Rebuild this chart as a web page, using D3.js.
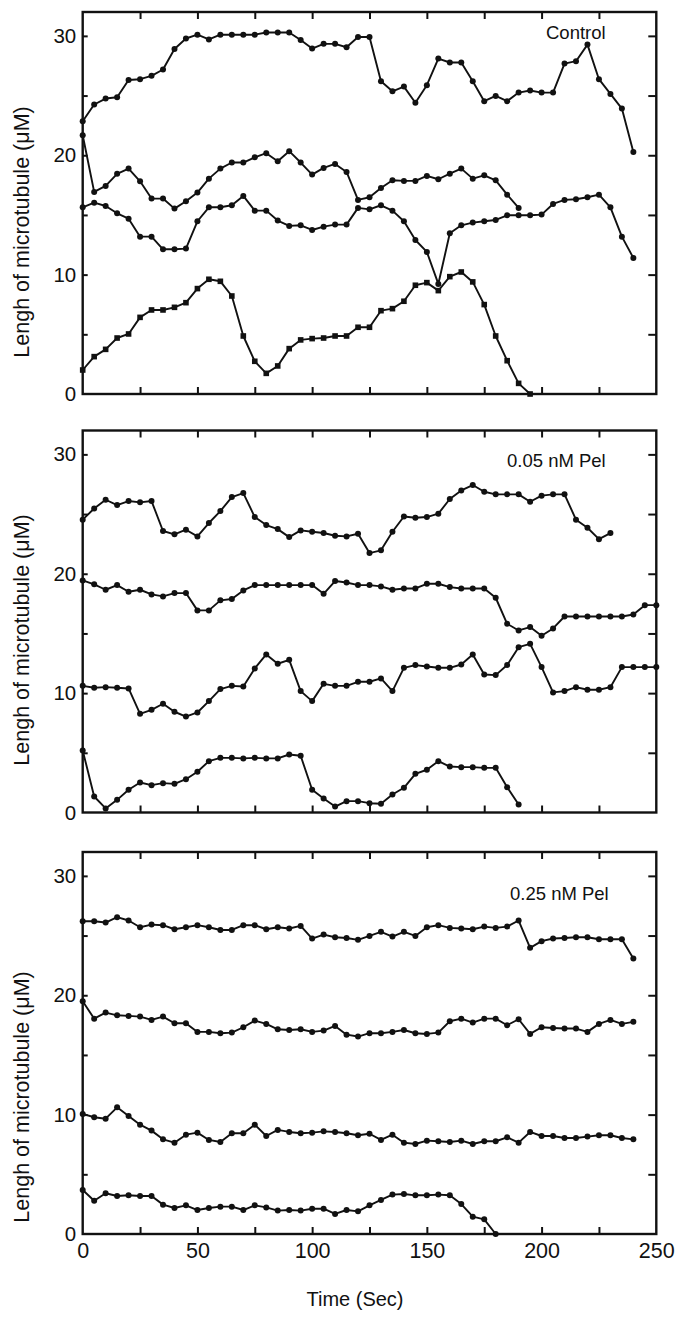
<!DOCTYPE html>
<html><head><meta charset="utf-8">
<script src="https://cdn.jsdelivr.net/npm/d3@7"></script>
<style>body{margin:0;background:#fff}svg{display:block}</style>
</head><body>
<svg id="chart" width="684" height="1322"></svg>
<script>
// ---- data ----
const times = [0,5,10,15,20,25,30,35,40,45,50,55,60,65,70,75,80,85,90,95,100,105,110,115,120,125,130,135,140,145,150,155,160,165,170,175,180,185,190,195,200,205,210,215,220,225,230,235,240,245,250];
const xTicks = [0,50,100,150,200,250];
const xMinorTicks = [25,50,75,100,125,150,175,200,225];
const yTicks = [0,10,20,30];
const yMinorTicks = [5,10,15,20,25,30];
const panelLabels = ["Control","0.05 nM Pel","0.25 nM Pel"];
const yTitle = "Lengh of microtubule (\u03bcM)";
const xTitle = "Time (Sec)";

// Control
const ctrlA = [22.85,24.25,24.75,24.86,26.3,26.37,26.65,27.18,28.9,29.78,30.1,29.7,30.1,30.1,30.1,30.1,30.28,30.28,30.28,29.66,28.94,29.33,29.33,29.05,29.9,29.9,26.2,25.36,25.75,24.4,25.87,28.1,27.77,27.77,26.2,24.53,24.97,24.53,25.25,25.42,25.25,25.25,27.68,27.88,29.27,26.37,25.14,23.91,20.28];
const ctrlB = [21.68,16.93,17.43,18.44,18.88,17.82,16.37,16.37,15.53,16.15,16.87,18.04,18.88,19.39,19.39,19.83,20.17,19.5,20.34,19.39,18.38,18.94,19.27,18.6,16.26,16.48,17.26,17.9,17.85,17.85,18.27,17.99,18.46,18.88,18.04,18.32,17.9,16.7,15.59];
const ctrlC = [15.64,16.03,15.75,15.14,14.69,13.18,13.18,12.12,12.12,12.18,14.47,15.64,15.64,15.81,16.59,15.36,15.36,14.53,14.08,14.13,13.74,14.02,14.19,14.19,15.59,15.47,15.81,15.36,14.47,12.9,11.9,9.22,13.46,14.13,14.36,14.47,14.58,14.97,14.97,14.97,15.03,15.92,16.26,16.31,16.48,16.7,15.64,13.18,11.4];
const ctrlD = [2.01,3.13,3.74,4.69,5.03,6.42,7.04,7.04,7.26,7.65,8.83,9.61,9.44,8.21,4.86,2.74,1.73,2.35,3.8,4.53,4.64,4.69,4.86,4.86,5.59,5.59,6.98,7.15,7.77,9.11,9.33,8.66,9.83,10.22,9.39,7.49,4.86,2.79,0.89,0];
// 0.05 nM Pel
const pel05A = [24.53,25.47,26.2,25.75,26.09,25.98,26.09,23.58,23.3,23.69,23.13,24.25,25.25,26.42,26.76,24.75,24.08,23.74,23.07,23.63,23.52,23.41,23.18,23.13,23.35,21.73,21.96,23.52,24.8,24.69,24.75,25.03,26.26,26.98,27.43,26.87,26.65,26.65,26.65,26.03,26.54,26.65,26.65,24.53,23.85,22.9,23.41];
const pel05B = [19.44,19.11,18.66,19.05,18.49,18.66,18.27,18.1,18.38,18.38,16.93,16.93,17.77,17.88,18.6,19.05,19.05,19.05,19.05,19.05,19.05,18.32,19.39,19.27,19.05,19.05,18.94,18.66,18.77,18.77,19.16,19.16,18.88,18.77,18.77,18.77,17.99,15.81,15.25,15.53,14.8,15.42,16.42,16.42,16.42,16.42,16.42,16.42,16.59,17.37,17.37];
const pel05C = [10.61,10.45,10.5,10.45,10.39,8.27,8.6,9.11,8.44,8.04,8.38,9.33,10.34,10.61,10.56,12.07,13.24,12.46,12.79,10.17,9.33,10.78,10.61,10.61,10.95,10.95,11.23,10.17,12.12,12.35,12.23,12.12,12.12,12.4,13.24,11.56,11.51,12.35,13.85,14.13,12.18,10.06,10.17,10.5,10.28,10.28,10.5,12.18,12.18,12.18,12.18];
const pel05D = [5.2,1.34,0.34,1.06,1.9,2.51,2.29,2.46,2.4,2.79,3.41,4.3,4.58,4.58,4.53,4.58,4.53,4.53,4.86,4.75,1.9,1.17,0.5,0.95,0.95,0.78,0.73,1.51,2.07,3.24,3.58,4.3,3.85,3.8,3.8,3.74,3.74,2.12,0.67];
// 0.25 nM Pel
const pel25A = [26.2,26.2,26.09,26.54,26.26,25.7,25.92,25.87,25.53,25.7,25.87,25.7,25.47,25.47,25.87,25.87,25.53,25.7,25.59,25.81,24.75,25.08,24.86,24.8,24.64,24.97,25.31,24.92,25.31,24.97,25.7,25.87,25.64,25.59,25.53,25.75,25.64,25.75,26.26,23.97,24.53,24.75,24.8,24.86,24.86,24.69,24.69,24.69,23.07];
const pel25B = [19.5,18.04,18.55,18.32,18.27,18.21,17.93,18.21,17.65,17.65,16.93,16.93,16.82,16.87,17.32,17.88,17.6,17.15,17.09,17.15,16.93,17.04,17.43,16.7,16.54,16.82,16.82,16.93,17.09,16.82,16.76,16.87,17.82,18.04,17.71,18.04,18.04,17.49,17.99,16.76,17.32,17.26,17.21,17.21,16.93,17.6,17.93,17.6,17.77];
const pel25C = [10.06,9.78,9.66,10.61,9.89,9.16,8.66,7.93,7.65,8.32,8.49,7.88,7.71,8.44,8.44,9.16,8.21,8.72,8.55,8.44,8.49,8.6,8.55,8.44,8.27,8.4,7.88,8.32,7.65,7.54,7.82,7.77,7.71,7.82,7.54,7.77,7.77,8.1,7.65,8.55,8.21,8.21,8.04,8.04,8.16,8.27,8.27,8.04,7.93];
const pel25D = [3.69,2.79,3.41,3.18,3.24,3.18,3.18,2.46,2.18,2.4,2.01,2.18,2.29,2.29,2.01,2.4,2.23,1.96,2.01,1.96,2.12,2.12,1.68,2.01,1.9,2.4,2.85,3.3,3.35,3.24,3.24,3.3,3.24,2.51,1.45,1.23,0];

const panels = [
  {label: panelLabels[0], series: [{v: ctrlA, m: "circle"}, {v: ctrlB, m: "circle"}, {v: ctrlC, m: "circle"}, {v: ctrlD, m: "square"}]},
  {label: panelLabels[1], series: [{v: pel05A, m: "circle"}, {v: pel05B, m: "circle"}, {v: pel05C, m: "circle"}, {v: pel05D, m: "circle"}]},
  {label: panelLabels[2], series: [{v: pel25A, m: "circle"}, {v: pel25B, m: "circle"}, {v: pel25C, m: "circle"}, {v: pel25D, m: "circle"}]}
];

// ---- layout ----
const svg = d3.select("#chart");
const ink = "#111";
const font = "Liberation Sans, Arial, sans-serif";
const left = 82.7, right = 656.3;
const bottoms = [394, 812.5, 1234];
const panelH = 382;
const titleY = [232, 640, 1097];
const labelPos = [[546, 39], [507, 467], [510, 900]];
const x = d3.scaleLinear().domain([0, 250]).range([left, right]);

panels.forEach((p, pi) => {
  const b = bottoms[pi], t = b - panelH;
  const y = d3.scaleLinear().domain([0, 32]).range([b, t]);
  const g = svg.append("g");

  // ticks (all inward)
  g.append("g").attr("transform", `translate(0,${t})`)
    .call(d3.axisBottom(x).tickValues(xMinorTicks).tickSize(7).tickFormat(""))
    .call(s => s.select(".domain").remove());
  g.append("g").attr("transform", `translate(0,${b})`)
    .call(d3.axisTop(x).tickValues(xMinorTicks).tickSize(7).tickFormat(""))
    .call(s => s.select(".domain").remove());
  g.append("g").attr("transform", `translate(${right},0)`)
    .call(d3.axisLeft(y).tickValues(yMinorTicks).tickSize(8).tickFormat(""))
    .call(s => s.select(".domain").remove());
  g.append("g").attr("transform", `translate(${left},0)`)
    .call(d3.axisRight(y).tickValues(yMinorTicks).tickSize(5).tickFormat(""))
    .call(s => s.select(".domain").remove());
  g.selectAll(".tick line").attr("stroke", ink).attr("stroke-width", 2);

  // y tick labels
  g.append("g").attr("transform", `translate(${left},0)`)
    .call(d3.axisLeft(y).tickValues(yTicks).tickSize(0).tickPadding(6.5))
    .call(s => s.select(".domain").remove())
    .call(s => s.selectAll("text").attr("font-family", font)
      .attr("font-size", 20.5).attr("fill", ink));

  // frame
  g.append("rect").attr("x", left).attr("y", t).attr("width", right - left).attr("height", b - t)
    .attr("fill", "none").attr("stroke", ink).attr("stroke-width", 2.4);

  // series
  const line = d3.line().x((d, i) => x(times[i])).y(d => y(d));
  p.series.forEach(s => {
    g.append("path").datum(s.v).attr("d", line).attr("fill", "none")
      .attr("stroke", ink).attr("stroke-width", 1.9).attr("stroke-linejoin", "round");
    if (s.m === "circle") {
      g.selectAll(null).data(s.v).enter().append("circle")
        .attr("cx", (d, i) => x(times[i])).attr("cy", d => y(d)).attr("r", 3).attr("fill", ink);
    } else {
      g.selectAll(null).data(s.v).enter().append("rect")
        .attr("x", (d, i) => x(times[i]) - 2.8).attr("y", d => y(d) - 2.8)
        .attr("width", 5.6).attr("height", 5.6).attr("fill", ink);
    }
  });

  // panel label
  g.append("text").attr("x", labelPos[pi][0]).attr("y", labelPos[pi][1])
    .attr("font-family", font).attr("font-size", 18.5)
    .attr("fill", ink).text(p.label);

  // y title
  g.append("text").attr("transform", `translate(29,${titleY[pi]}) rotate(-90)`)
    .attr("text-anchor", "middle").attr("font-family", font)
    .attr("font-size", 21.5).attr("fill", ink).text(yTitle);

  if (pi === 2) {
    g.append("g").attr("transform", `translate(0,${b})`)
      .call(d3.axisBottom(x).tickValues(xTicks).tickSize(0).tickPadding(9))
      .call(s => s.select(".domain").remove())
      .call(s => s.selectAll("text").attr("font-family", font)
        .attr("font-size", 21.5).attr("fill", ink));
  }
});

svg.append("text").attr("x", 355).attr("y", 1306).attr("text-anchor", "middle")
  .attr("font-family", font).attr("font-size", 20)
  .attr("fill", ink).text(xTitle);
</script>
</body></html>
